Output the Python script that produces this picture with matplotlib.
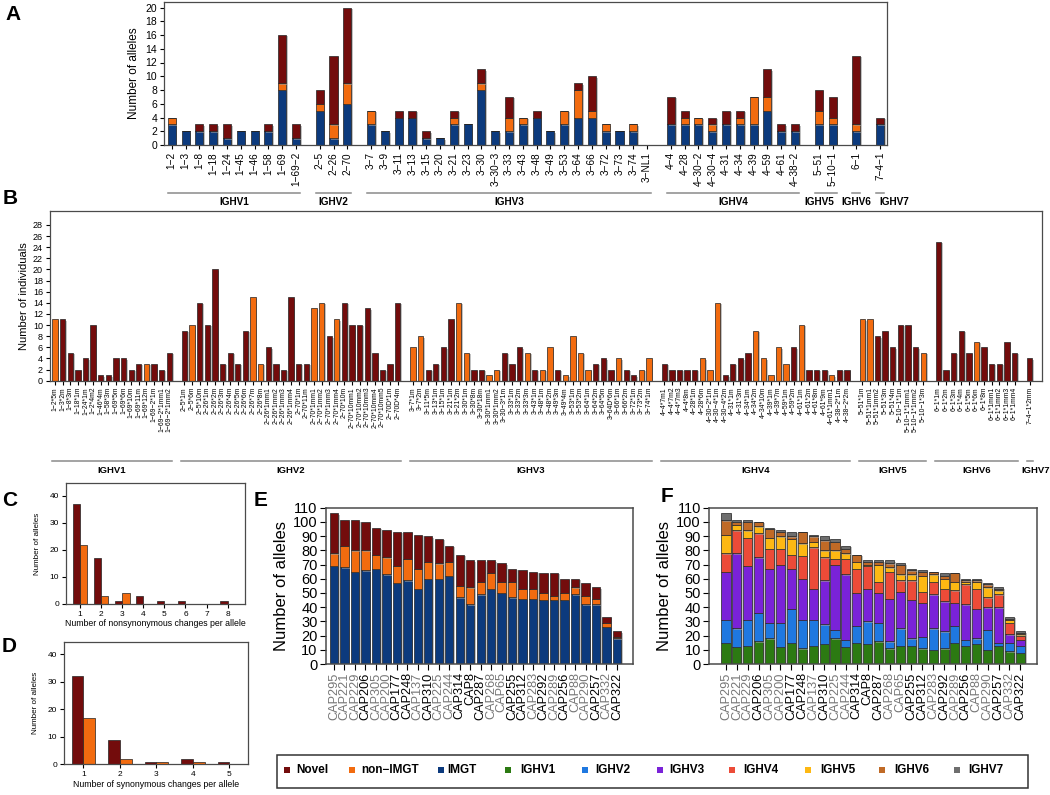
import matplotlib
matplotlib.use('Agg')
import matplotlib.pyplot as plt
import matplotlib.patheffects as pe
import numpy as np
from matplotlib.patches import Rectangle
from matplotlib.transforms import blended_transform_factory

plt.rcParams['font.family'] = ['Liberation Sans', 'DejaVu Sans']

# ---- colours ----
NOVEL = '#730c0c'
NON_IMGT = '#f26b0f'
IMGT = '#0c3a7d'
FAMILY_COLORS = ['#2c7a12', '#1f78e0', '#7a22d8', '#ec4b38', '#fdb813', '#c06a26', '#6e6e6e']

FAMILIES = ['IGHV1', 'IGHV2', 'IGHV3', 'IGHV4', 'IGHV5', 'IGHV6', 'IGHV7']

# ---- panel A: alleles per gene ----
a_genes = [
    ['1−2', '1−3', '1−8', '1−18', '1−24', '1−45', '1−46', '1−58', '1−69', '1−69−2'],
    ['2−5', '2−26', '2−70'],
    ['3−7', '3−9', '3−11', '3−13', '3−15', '3−20', '3−21', '3−23', '3−30', '3−30−3', '3−33',
     '3−43', '3−48', '3−49', '3−53', '3−64', '3−66', '3−72', '3−73', '3−74', '3−NL1'],
    ['4−4', '4−28', '4−30−2', '4−30−4', '4−31', '4−34', '4−39', '4−59', '4−61', '4−38−2'],
    ['5−51', '5−10−1'],
    ['6−1'],
    ['7−4−1'],
]
a_imgt = [3, 2, 2, 2, 1, 2, 2, 2, 8, 1,
          5, 1, 6,
          3, 2, 4, 4, 1, 1, 3, 3, 8, 2, 2, 3, 4, 2, 3, 4, 4, 2, 2, 2, 0,
          3, 3, 3, 2, 3, 3, 3, 5, 2, 2,
          3, 3,
          2,
          3]
a_non_imgt = [1, 0, 0, 0, 0, 0, 0, 0, 1, 0,
              1, 2, 3,
              2, 0, 0, 0, 0, 0, 1, 0, 1, 0, 2, 1, 0, 0, 2, 4, 1, 1, 0, 1, 0,
              0, 1, 1, 1, 0, 1, 4, 2, 0, 0,
              2, 1,
              1,
              0]
a_novel = [0, 0, 1, 1, 2, 0, 0, 1, 7, 2,
           2, 10, 11,
           0, 0, 1, 1, 1, 0, 1, 0, 2, 0, 3, 0, 1, 0, 0, 1, 5, 0, 0, 0, 0,
           4, 1, 0, 1, 2, 1, 0, 4, 1, 1,
           3, 3,
           10,
           1]

# ---- panel B: individuals per allele ----
b_alleles = [
    ['1−2*5m', '1−3*2m', '1−8*3m', '1−18*1m', '1−24*1m', '1−2*4m2', '1−46*4m', '1−58*3m',
     '1−69*5m', '1−69*6m', '1−69*10m', '1−69*11m', '1−69*12m', '1−69−2*1m', '1−69−2*1mm1', '1−69−2*1mm2'],
    ['2−5*1m', '2−5*6m', '2−5*10m', '2−26*1m', '2−26*2m', '2−26*3m', '2−26*4m', '2−26*5m', '2−26*6m',
     '2−26*7m', '2−26*8m', '2−26*1mm1', '2−26*1mm2', '2−26*1mm3', '2−26*1mm4', '2−70*1m', '2−70*11m',
     '2−70*1mm1', '2−70*1mm2', '2−70*1mm3', '2−70*1mm4', '2−70*10m', '2−70*10mm1', '2−70*10mm2',
     '2−70*10mm3', '2−70*10mm4', '2−70*10mm5', '2−70D*1m', '2−70D*4m'],
    ['3−7*1m', '3−7*2m', '3−11*5m', '3−13*1m', '3−15*1m', '3−21*1m', '3−21*2m', '3−30*1m', '3−30*8m',
     '3−30*18m', '3−30*1mm1', '3−30*1mm2', '3−30−3*1m', '3−33*1m', '3−33*2m', '3−33*3m', '3−43*1m',
     '3−48*1m', '3−48*2m', '3−49*3m', '3−49*4m', '3−53*1m', '3−53*2m', '3−64*1m', '3−64*2m',
     '3−64*5m', '3−64D*6m', '3−66*1m', '3−66*2m', '3−72*1m', '3−73*2m', '3−74*1m'],
    ['4−4*7m1', '4−4*7m2', '4−4*7m3', '4−4*8m', '4−28*1m', '4−28*6m', '4−30−2*1m', '4−30−4*1m',
     '4−30−4*2m', '4−31*1m', '4−31*3m', '4−34*1m', '4−34*2m', '4−34*10m', '4−39*1m', '4−39*7m',
     '4−59*1m', '4−59*2m', '4−61*1m', '4−61*2m', '4−61*8m', '4−61*9m', '4−61*1mm1', '4−38−2*1m',
     '4−38−2*2m'],
    ['5−51*1m', '5−51*1mm1', '5−51*1mm2', '5−51*3m', '5−51*4m', '5−10−1*1m', '5−10−1*1mm1',
     '5−10−1*1mm2', '5−10−1*3m'],
    ['6−1*1m', '6−1*2m', '6−1*3m', '6−1*4m', '6−1*5m', '6−1*6m', '6−1*8m', '6−1*1mm1', '6−1*1mm2',
     '6−1*1mm3', '6−1*1mm4'],
    ['7−4−1*2mm'],
]
b_counts = [11, 11, 5, 2, 4, 10, 1, 1, 4, 4, 2, 3, 3, 3, 2, 5,
            9, 10, 14, 10, 20, 3, 5, 3, 9, 15, 3, 6, 3, 2, 15, 3, 3, 13, 14, 8, 11, 14, 10, 10, 13, 5, 2, 3, 14,
            6, 8, 2, 3, 6, 11, 14, 5, 2, 2, 1, 2, 5, 3, 6, 5, 2, 2, 6, 2, 1, 8, 5, 2, 3, 4, 2, 4, 2, 1, 2, 4,
            3, 2, 2, 2, 2, 4, 2, 14, 1, 3, 4, 5, 9, 4, 1, 6, 3, 6, 10, 2, 2, 2, 1, 2, 2,
            11, 11, 8, 9, 6, 10, 10, 6, 5,
            25, 2, 5, 9, 5, 7, 6, 3, 3, 7, 5,
            4]
# N = novel, O = non-IMGT
b_kind = ('ONNNNNNNNNNNONNN'
          'NONNNNNNNOONNNNNNOONONNNNNNNN'
          'OONNNNOONNOONNNONOONOOOONNNONNOO'
          'NNNNNOOONNNNOOOOONONNNONN'
          'OONNNNNNO'
          'NNNNNONNNNN'
          'N')

# ---- panels C and D ----
c_changes = [1, 2, 3, 4, 5, 6, 7, 8]
c_novel = [37, 17, 1, 3, 1, 1, 0, 1]
c_non_imgt = [22, 3, 4, 0, 0, 0, 0, 0]
d_changes = [1, 2, 3, 4, 5]
d_novel = [32, 9, 1, 2, 1]
d_non_imgt = [17, 2, 1, 1, 0]

# ---- panels E and F: per individual ----
individuals = ['CAP295', 'CAP221', 'CAP229', 'CAP206', 'CAP305', 'CAP200', 'CAP177', 'CAP248', 'CAP137',
               'CAP310', 'CAP225', 'CAP244', 'CAP314', 'CAP8', 'CAP287', 'CAP268', 'CAP65', 'CAP255',
               'CAP312', 'CAP283', 'CAP292', 'CAP289', 'CAP256', 'CAP88', 'CAP290', 'CAP257', 'CAP332',
               'CAP322']
individual_grey = [1, 1, 1, 0, 1, 1, 0, 0, 1, 0, 1, 1, 0, 0, 0, 1, 1, 0, 0, 1, 0, 1, 0, 1, 1, 0, 1, 0]
e_imgt = [69, 68, 65, 66, 67, 63, 57, 59, 53, 60, 60, 62, 47, 42, 49, 53, 50, 47, 46, 46, 45, 45, 45, 49,
          42, 42, 26, 18]
e_non_imgt = [9, 15, 15, 14, 10, 12, 12, 15, 14, 12, 11, 10, 8, 12, 9, 11, 8, 11, 7, 7, 5, 3, 5, 5, 6, 4, 3, 1]
e_novel = [28, 18, 21, 20, 19, 19, 24, 19, 24, 18, 17, 11, 22, 19, 15, 9, 13, 9, 13, 12, 14, 16, 10, 6, 9,
           8, 4, 4]
f_ighv1 = [15, 12, 13, 16, 18, 12, 15, 11, 13, 14, 18, 12, 15, 14, 16, 11, 13, 13, 11, 10, 11, 15, 13, 14,
           10, 13, 9, 8]
f_ighv2 = [16, 13, 18, 20, 11, 17, 24, 20, 18, 14, 6, 5, 12, 16, 13, 5, 12, 5, 8, 15, 12, 12, 4, 4, 14, 2, 6, 5]
f_ighv3 = [34, 53, 38, 39, 38, 41, 28, 29, 22, 31, 46, 46, 23, 23, 21, 30, 26, 27, 24, 24, 21, 16, 25, 21,
           16, 25, 6, 4]
f_ighv4 = [13, 16, 20, 17, 14, 11, 10, 16, 29, 16, 4, 11, 17, 16, 8, 19, 8, 14, 8, 9, 9, 9, 14, 14, 7, 9, 8, 3]
f_ighv5 = [13, 4, 5, 5, 8, 9, 11, 9, 4, 5, 6, 4, 5, 1, 12, 3, 4, 4, 11, 5, 7, 6, 2, 5, 7, 3, 2, 1]
f_ighv6 = [10, 2, 6, 3, 6, 3, 2, 8, 4, 7, 6, 3, 5, 2, 2, 3, 7, 3, 3, 2, 2, 6, 1, 1, 2, 1, 1, 1]
f_ighv7 = [5, 1, 1, 0, 1, 1, 3, 0, 1, 3, 2, 2, 0, 1, 1, 2, 1, 1, 1, 0, 2, 0, 1, 1, 1, 1, 1, 1]

W, H = 1050, 795
fig = plt.figure(figsize=(W / 100, H / 100), dpi=100)
SHADOW = [pe.SimplePatchShadow(offset=(1.2, -1.0), shadow_rgbFace='#9a9a9a', alpha=0.6), pe.Normal()]


def px_axes(left, top, right, bottom):
    return fig.add_axes([left / W, 1 - bottom / H, (right - left) / W, (bottom - top) / H])


def style_box(ax, lw=0.9):
    for s in ax.spines.values():
        s.set_color('#4a4a4a')
        s.set_linewidth(lw)


def shade(bars):
    for b in bars:
        b.set_path_effects(SHADOW)


def group_positions(sizes, gap):
    pos, x = [], 0.0
    for i, n in enumerate(sizes):
        if i:
            x += gap
        for _ in range(n):
            pos.append(x)
            x += 1
    return np.array(pos)


def family_lines(ax, pos, sizes, ext, y_line, y_text, fs, shifts):
    trans = blended_transform_factory(ax.transData, ax.transAxes)
    i = 0
    for n, name, sh in zip(sizes, FAMILIES, shifts):
        x0, x1 = pos[i] - ext, pos[i + n - 1] + ext
        ax.plot([x0, x1], [y_line, y_line], transform=trans, clip_on=False, color='#8a8a8a', lw=1.1)
        ax.text((x0 + x1) / 2 + sh, y_text, name, transform=trans, ha='center', va='center',
                fontsize=fs, fontweight='bold')
        i += n


def panel_letter(x, y, s):
    fig.text(x / W, 1 - y / H, s, fontsize=15, fontweight='bold', ha='left', va='center')


# ---------------- Panel A ----------------
a_sizes = [len(g) for g in a_genes]
a_pos = group_positions(a_sizes, 0.72)
a_labels = [g for grp in a_genes for g in grp]
ax = px_axes(164, 2, 887, 145)
bw = 0.58
shade(ax.bar(a_pos, a_imgt, bw, color=IMGT, edgecolor='#222', lw=0.5))
shade(ax.bar(a_pos, a_non_imgt, bw, bottom=a_imgt, color=NON_IMGT, edgecolor='#222', lw=0.5))
shade(ax.bar(a_pos, a_novel, bw, bottom=np.add(a_imgt, a_non_imgt), color=NOVEL, edgecolor='#222', lw=0.5))
ax.set_xlim(a_pos[0] - 0.56, a_pos[-1] + 0.5)
ax.set_ylim(0, 20.8)
ax.set_yticks(range(0, 21, 2))
ax.set_xticks(a_pos)
ax.set_xticklabels(a_labels, rotation=90, fontsize=7.2)
ax.tick_params(axis='y', labelsize=7.5, length=3, pad=2)
ax.tick_params(axis='x', length=3, pad=2)
ax.set_ylabel('Number of alleles', fontsize=8.5, labelpad=4)
style_box(ax)
family_lines(ax, a_pos, a_sizes, 0.3, -0.336, -0.399, 7.2, [0, 0, 0, 0, -0.5, 0, 1.0])
panel_letter(5, 14, 'A')

# ---------------- Panel B ----------------
b_sizes = [len(g) for g in b_alleles]
b_pos = group_positions(b_sizes, 1.0)
b_labels = [g for grp in b_alleles for g in grp]
b_colors = [NOVEL if k == 'N' else NON_IMGT for k in b_kind]
ax = px_axes(50, 211, 1042, 380.7)
shade(ax.bar(b_pos, b_counts, 0.7, color=b_colors, edgecolor='#222', lw=0.5))
ax.set_xlim(b_pos[0] - 0.66, b_pos[-1] + 1.6)
ax.set_ylim(0, 30.5)
ax.set_yticks(range(0, 29, 2))
ax.set_xticks(b_pos)
ax.set_xticklabels(b_labels, rotation=90, fontsize=4.9)
ax.tick_params(axis='y', labelsize=6.5, length=3, pad=2)
ax.tick_params(axis='x', length=3, pad=1.5)
ax.set_ylabel('Number of individuals', fontsize=8, labelpad=3)
style_box(ax)
family_lines(ax, b_pos, b_sizes, 0.4, -0.471, -0.530, 6.8, [0, 0, 0, 0, 0, 0, 0.8])
panel_letter(3, 198, 'B')

# ---------------- Panel C ----------------
ax = px_axes(66, 483, 245, 604)
ax.bar(np.array(c_changes) - 0.175, c_novel, 0.35, color=NOVEL, edgecolor='#222', lw=0.5)
ax.bar(np.array(c_changes) + 0.175, c_non_imgt, 0.35, color=NON_IMGT, edgecolor='#222', lw=0.5)
ax.set_xlim(0.34, 8.82)
ax.set_ylim(0, 44.8)
ax.set_yticks([0, 10, 20, 30, 40])
ax.set_xticks(c_changes)
ax.tick_params(labelsize=6, length=3, pad=2)
ax.set_xlabel('Number of nonsynonymous changes per allele', fontsize=6.3, labelpad=1)
ax.set_ylabel('Number of alleles', fontsize=5.8, labelpad=6)
style_box(ax)
panel_letter(2, 500, 'C')

# ---------------- Panel D ----------------
ax = px_axes(64, 641.7, 248, 764.3)
ax.bar(np.array(d_changes) - 0.16, d_novel, 0.32, color=NOVEL, edgecolor='#222', lw=0.5)
ax.bar(np.array(d_changes) + 0.16, d_non_imgt, 0.32, color=NON_IMGT, edgecolor='#222', lw=0.5)
ax.set_xlim(0.47, 5.51)
ax.set_ylim(0, 44.6)
ax.set_yticks([0, 10, 20, 30, 40])
ax.set_xticks(d_changes)
ax.tick_params(labelsize=6, length=3, pad=2)
ax.set_xlabel('Number of synonymous changes per allele', fontsize=6.3, labelpad=1)
ax.set_ylabel('Number of alleles', fontsize=5.8, labelpad=6)
style_box(ax)
panel_letter(2, 646, 'D')


def cap_axis(ax):
    ax.set_xticks(range(len(individuals)))
    ax.set_xticklabels(individuals, rotation=90, fontsize=9.2)
    for lab, g in zip(ax.get_xticklabels(), individual_grey):
        lab.set_color('#777777' if g else 'black')
    ax.set_ylim(0, 110)
    ax.set_yticks(range(0, 111, 10))
    ax.tick_params(axis='y', labelsize=10.5, length=4, pad=2)
    ax.tick_params(axis='x', length=4, pad=2)
    ax.set_ylabel('Number of alleles', fontsize=12, labelpad=3)
    style_box(ax, 1.1)


# ---------------- Panel E ----------------
xe = np.arange(len(individuals))
ax = px_axes(326, 507.7, 632.7, 664)
shade(ax.bar(xe, e_imgt, 0.8, color=IMGT, edgecolor='#222', lw=0.5))
shade(ax.bar(xe, e_non_imgt, 0.8, bottom=e_imgt, color=NON_IMGT, edgecolor='#222', lw=0.5))
shade(ax.bar(xe, e_novel, 0.8, bottom=np.add(e_imgt, e_non_imgt), color=NOVEL, edgecolor='#222', lw=0.5))
ax.set_xlim(-0.76, 28.5)
cap_axis(ax)
panel_letter(254, 500, 'E')

# ---------------- Panel F ----------------
ax = px_axes(709.3, 507.7, 1036.7, 664)
bottom = np.zeros(len(individuals))
for vals, col in zip([f_ighv1, f_ighv2, f_ighv3, f_ighv4, f_ighv5, f_ighv6, f_ighv7], FAMILY_COLORS):
    shade(ax.bar(xe, vals, 0.83, bottom=bottom, color=col, edgecolor='#222', lw=0.5))
    bottom = bottom + np.array(vals)
ax.set_xlim(-1.53, 28.5)
cap_axis(ax)
panel_letter(661, 497, 'F')

# ---------------- Legend ----------------
legend_labels = ['Novel', 'non−IMGT', 'IMGT'] + FAMILIES
legend_colors = [NOVEL, NON_IMGT, IMGT] + FAMILY_COLORS
legend_square_x = [287, 351.7, 440.7, 508.3, 585, 660, 731.7, 808.3, 881.7, 956.7]
legend_text_x = [296.7, 361, 447.7, 520.7, 595.7, 669.3, 743.3, 820, 894, 968.3]
fig.patches.append(Rectangle((276.7 / W, 1 - 788 / H), (1027.7 - 276.7) / W, 33 / H,
                             transform=fig.transFigure, fill=False, ec='#333', lw=1.1))
for lab, col, sx, tx in zip(legend_labels, legend_colors, legend_square_x, legend_text_x):
    fig.patches.append(Rectangle(((sx - 3) / W, 1 - 773 / H), 6 / W, 6 / H,
                                 transform=fig.transFigure, color=col, lw=0))
    fig.text(tx / W, 1 - 770 / H, lab, fontsize=8.5, fontweight='bold', ha='left', va='center')

fig.savefig('out.png', dpi=100)
